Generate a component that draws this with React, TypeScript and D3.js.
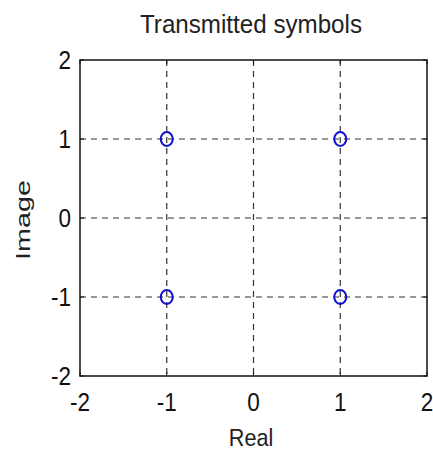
import React from "react";
import * as d3 from "d3";

const xTicks = [-2, -1, 0, 1, 2];
const yTicks = [-2, -1, 0, 1, 2];
const gridValues = [-1, 0, 1];
const symbolsRe = [-1, 1, -1, 1];
const symbolsIm = [1, 1, -1, -1];
const title = "Transmitted symbols";
const xLabel = "Real";
const yLabel = "Image";

export default function App() {
  const W = 433, H = 450;
  const left = 80, right = 427, top = 60, bottom = 376;
  const x = d3.scaleLinear().domain([-2, 2]).range([left, right]);
  const y = d3.scaleLinear().domain([-2, 2]).range([bottom, top]);
  const font = "'Liberation Sans', Arial, sans-serif";
  const sx = 0.9;
  const tl = 4;
  return (
    <svg width={W} height={H} style={{ position: "absolute", left: 0, top: 0, background: "#fff" }}>
      <rect x={0} y={0} width={W} height={H} fill="#fff" />
      {gridValues.map((v) => (
        <line key={"gx" + v} x1={x(v)} x2={x(v)} y1={top} y2={bottom} stroke="#333" strokeWidth={1.2} strokeDasharray="6,5" />
      ))}
      {gridValues.map((v) => (
        <line key={"gy" + v} x1={left} x2={right} y1={y(v)} y2={y(v)} stroke="#333" strokeWidth={1.2} strokeDasharray="6,5" />
      ))}
      {xTicks.map((t) => (
        <g key={"xm" + t}>
          <line x1={x(t)} x2={x(t)} y1={bottom} y2={bottom - tl} stroke="#111" strokeWidth={1} />
          <line x1={x(t)} x2={x(t)} y1={top} y2={top + tl} stroke="#111" strokeWidth={1} />
        </g>
      ))}
      {yTicks.map((t) => (
        <g key={"ym" + t}>
          <line x1={left} x2={left + tl} y1={y(t)} y2={y(t)} stroke="#111" strokeWidth={1} />
          <line x1={right} x2={right - tl} y1={y(t)} y2={y(t)} stroke="#111" strokeWidth={1} />
        </g>
      ))}
      <rect x={left} y={top} width={right - left} height={bottom - top} fill="none" stroke="#111" strokeWidth={1.5} />
      {symbolsRe.map((re, i) => (
        <ellipse key={i} cx={x(re)} cy={y(symbolsIm[i])} rx={6} ry={7} fill="none" stroke="#1010d0" strokeWidth={2} />
      ))}
      <g transform={`scale(${sx},1)`}>
        {xTicks.map((t) => (
          <text key={"xt" + t} x={x(t) / sx} y={411} textAnchor="middle" fontFamily={font} fontSize={25} fill="#111">{t}</text>
        ))}
        {yTicks.map((t) => (
          <text key={"yt" + t} x={71 / sx} y={y(t) + 9} textAnchor="end" fontFamily={font} fontSize={25} fill="#111">{t}</text>
        ))}
        <text x={251 / sx} y={446} textAnchor="middle" fontFamily={font} fontSize={24} fill="#222">{xLabel}</text>
      </g>
      <text x={251} y={33} textAnchor="middle" fontFamily={font} fontSize={25} fill="#222" textLength={222} lengthAdjust="spacingAndGlyphs">{title}</text>
      <text transform={`translate(30,220) rotate(-90)`} textAnchor="middle" fontFamily={font} fontSize={20} fill="#222" textLength={80} lengthAdjust="spacingAndGlyphs">{yLabel}</text>
    </svg>
  );
}
